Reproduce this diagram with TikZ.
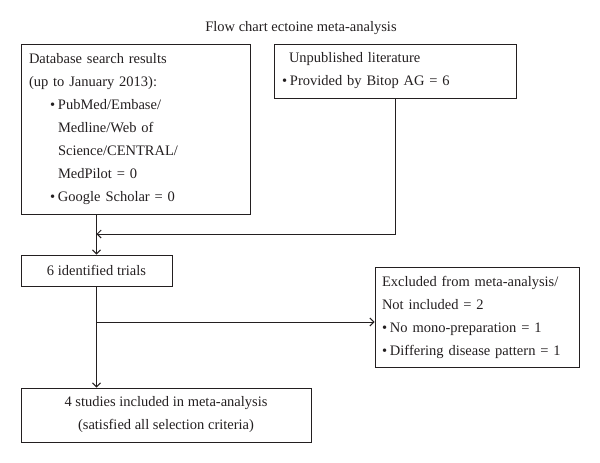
\documentclass[tikz,border=0pt]{standalone}
\usepackage{fontspec}
\setmainfont{Liberation Serif}
\usetikzlibrary{arrows.meta}
\definecolor{ink}{RGB}{35,31,32}
\tikzset{
  box/.style={draw=ink, line width=1pt, rectangle, inner sep=0pt, text=ink,
    font=\fontsize{14.5}{23}\selectfont},
  conn/.style={draw=ink, line width=1pt, -{Straight Barb[length=4pt,width=8pt]}},
}
\newcommand{\bul}{\makebox[8pt][l]{\textbullet}}
\begin{document}
\begin{tikzpicture}[x=1pt,y=-1pt]
\useasboundingbox (0,0) rectangle (600,463);
\node[font=\fontsize{14.5}{23}\selectfont, text=ink] (title) at (301,28) {Flow chart ectoine meta-analysis};
\node[box, minimum width=229, minimum height=170, text width=213, align=left] (db) at (135.5,129)
 {Database search results\\
  (up to January 2013):\\
  \hspace*{21pt}\bul PubMed/Embase/\\
  \hspace*{29pt}Medline/Web of\\
  \hspace*{29pt}Science/CENTRAL/\\
  \hspace*{29pt}MedPilot = 0\\
  \hspace*{21pt}\bul Google Scholar = 0};
\node[box, minimum width=242, minimum height=54, text width=226, align=left] (unp) at (395,71)
 {\hspace*{7pt}Unpublished literature\\
  \bul Provided by Bitop AG = 6};
\node[box, minimum width=151, minimum height=31, align=center] (trials) at (96.5,270.5)
 {6 identified trials};
\node[box, minimum width=204, minimum height=100, text width=190, align=left] (excl) at (477,317)
 {Excluded from meta-analysis/\\
  Not included = 2\\
  \bul No mono-preparation = 1\\
  \bul Differing disease pattern = 1};
\node[box, minimum width=290, minimum height=54, align=center] (incl) at (166,415)
 {4 studies included in meta-analysis\\
  (satisfied all selection criteria)};
\coordinate (j1) at (96.5,234);
\coordinate (j2) at (96.5,322);
\draw[conn] (db.south -| trials.north) -- (trials.north);
\draw[conn] (unp.south) |- (j1);
\draw[conn] (trials.south) -- (trials.south |- incl.north);
\draw[conn] (j2) -- (excl.west |- j2);
\end{tikzpicture}
\end{document}
